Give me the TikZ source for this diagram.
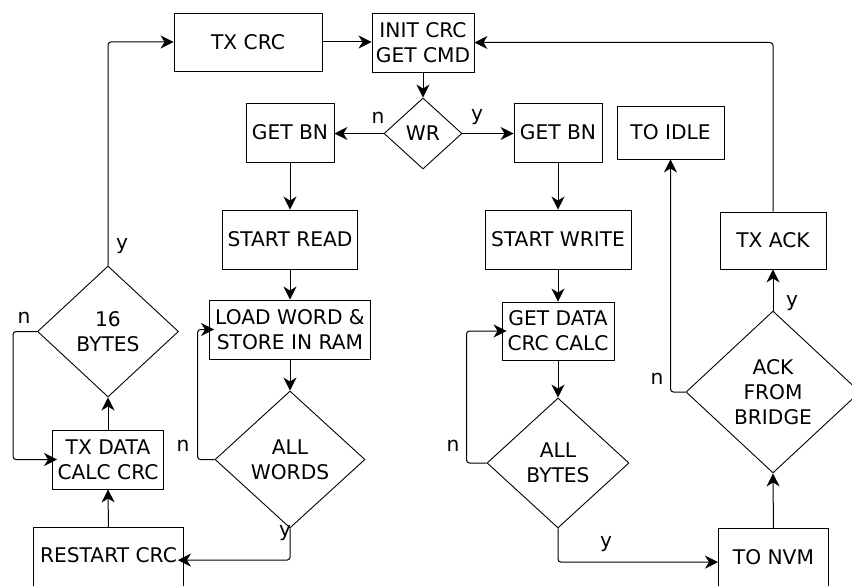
\documentclass[tikz,border=0pt]{standalone}
\usepackage{fontspec}
\setmainfont{DejaVu Sans}
\usetikzlibrary{shapes.geometric,arrows.meta}

\begin{document}
\begin{tikzpicture}[x=1pt,y=-1pt,
  every node/.style={font=\fontsize{20.2}{25}\selectfont},
  box/.style={draw, line width=0.9pt, inner sep=0pt, align=center},
  dec/.style={draw, diamond, line width=0.9pt, inner sep=0pt, align=center},
  flow/.style={draw, line width=1pt, rounded corners=3pt,
    -{Stealth[length=13pt,width=13pt,inset=4pt]}},
  into/.style={shorten >=-5pt},
  lbl/.style={inner sep=0pt}]
\clip (0,0) rectangle (852,586);
\useasboundingbox (0,0) rectangle (852,586);

% top row
\node[box, minimum width=148, minimum height=58] (txcrc) at (248,42) {TX CRC};
\node[box, minimum width=102, minimum height=59] (init) at (423,42.5) {INIT CRC\\GET CMD};
\node[dec, minimum width=78, minimum height=71] (wr) at (423,133.5) {WR};

% read branch
\node[box, minimum width=88, minimum height=59] (getbnL) at (290,132.5) {GET BN};
\node[box, minimum width=135, minimum height=59] (startread) at (290,239.5) {START READ};
\node[box, minimum width=161, minimum height=59] (loadword) at (290,329.5) {LOAD WORD \&\\STORE IN RAM};
\node[dec, minimum width=150, minimum height=137] (allwords) at (290,459.5) {ALL\\WORDS};
\node[box, minimum width=150, text height=35.4pt, text depth=45pt, anchor=north west] (restart) at (33,527) {RESTART CRC};
\node[box, minimum width=111, minimum height=59] (txdata) at (108,459.5) {TX DATA\\CALC CRC};
\node[dec, minimum width=141, minimum height=131] (sixteen) at (108,331.5) {16\\BYTES};

% write branch
\node[box, minimum width=88, minimum height=59] (getbnR) at (558,132.5) {GET BN};
\node[box, minimum width=146, minimum height=59] (startwrite) at (558,239.5) {START WRITE};
\node[box, minimum width=112, minimum height=58] (getdata) at (558,331) {GET DATA\\CRC CALC};
\node[dec, minimum width=142, minimum height=130] (allbytes) at (558,463) {ALL\\BYTES};
\node[box, minimum width=110, text height=36.4pt, text depth=45pt, anchor=north west] (tonvm) at (718,528) {TO NVM};
\node[dec, minimum width=174, minimum height=162] (ackbr) at (773,392) {ACK\\FROM\\BRIDGE};
\node[box, minimum width=106, minimum height=57] (txack) at (773,240.5) {TX ACK};
\node[box, minimum width=107, minimum height=53] (toidle) at (670.5,132.5) {TO IDLE};

% connectors
\draw[flow] (txcrc.east) -- (txcrc.east -| init.west);
\draw[flow] (txack.north) |- (init.east);
\draw[flow] (init) -- (wr);
\draw[flow] (wr.west) -- (wr.west -| getbnL.east);
\draw[flow] (wr.east) -- (wr.east -| getbnR.west);

\draw[flow] (getbnL) -- (startread);
\draw[flow] (startread) -- (loadword);
\draw[flow] (loadword) -- (allwords);
\draw[flow, into] (allwords.west) -- ++(-17,0) |- (loadword.west);
\draw[flow, shorten >=-6pt] (allwords.south) |- (restart.mid east);
\draw[flow] (restart.north) -- (txdata.south);
\draw[flow] (txdata) -- (sixteen);
\draw[flow, into] (sixteen.west) -- ++(-24,0) |- (txdata.west);
\draw[flow] (sixteen.north) |- (txcrc.west);

\draw[flow] (getbnR) -- (startwrite);
\draw[flow] (startwrite) -- (getdata);
\draw[flow] (getdata) -- (allbytes);
\draw[flow, into] (allbytes.west) -- ++(-20,0) |- (getdata.west);
\draw[flow] (allbytes.south) |- (tonvm.mid west);
\draw[flow] (tonvm.north) -- (ackbr.south);
\draw[flow] (ackbr.north) -- (txack.south);
\draw[flow] (ackbr.west) -| (toidle.south);

% branch labels
\node[lbl] (wrn) at (378,118) {n};
\node[lbl] (wry) at (477,117) {y};
\node[lbl] (sby) at (122,246) {y};
\node[lbl] (sbn) at (24,318) {n};
\node[lbl] (awn) at (183,446) {n};
\node[lbl] (awy) at (285,533) {y};
\node[lbl] (abn) at (453,446) {n};
\node[lbl] (aby) at (606,544) {y};
\node[lbl] (akn) at (657,379) {n};
\node[lbl] (aky) at (792,303) {y};
\end{tikzpicture}
\end{document}
